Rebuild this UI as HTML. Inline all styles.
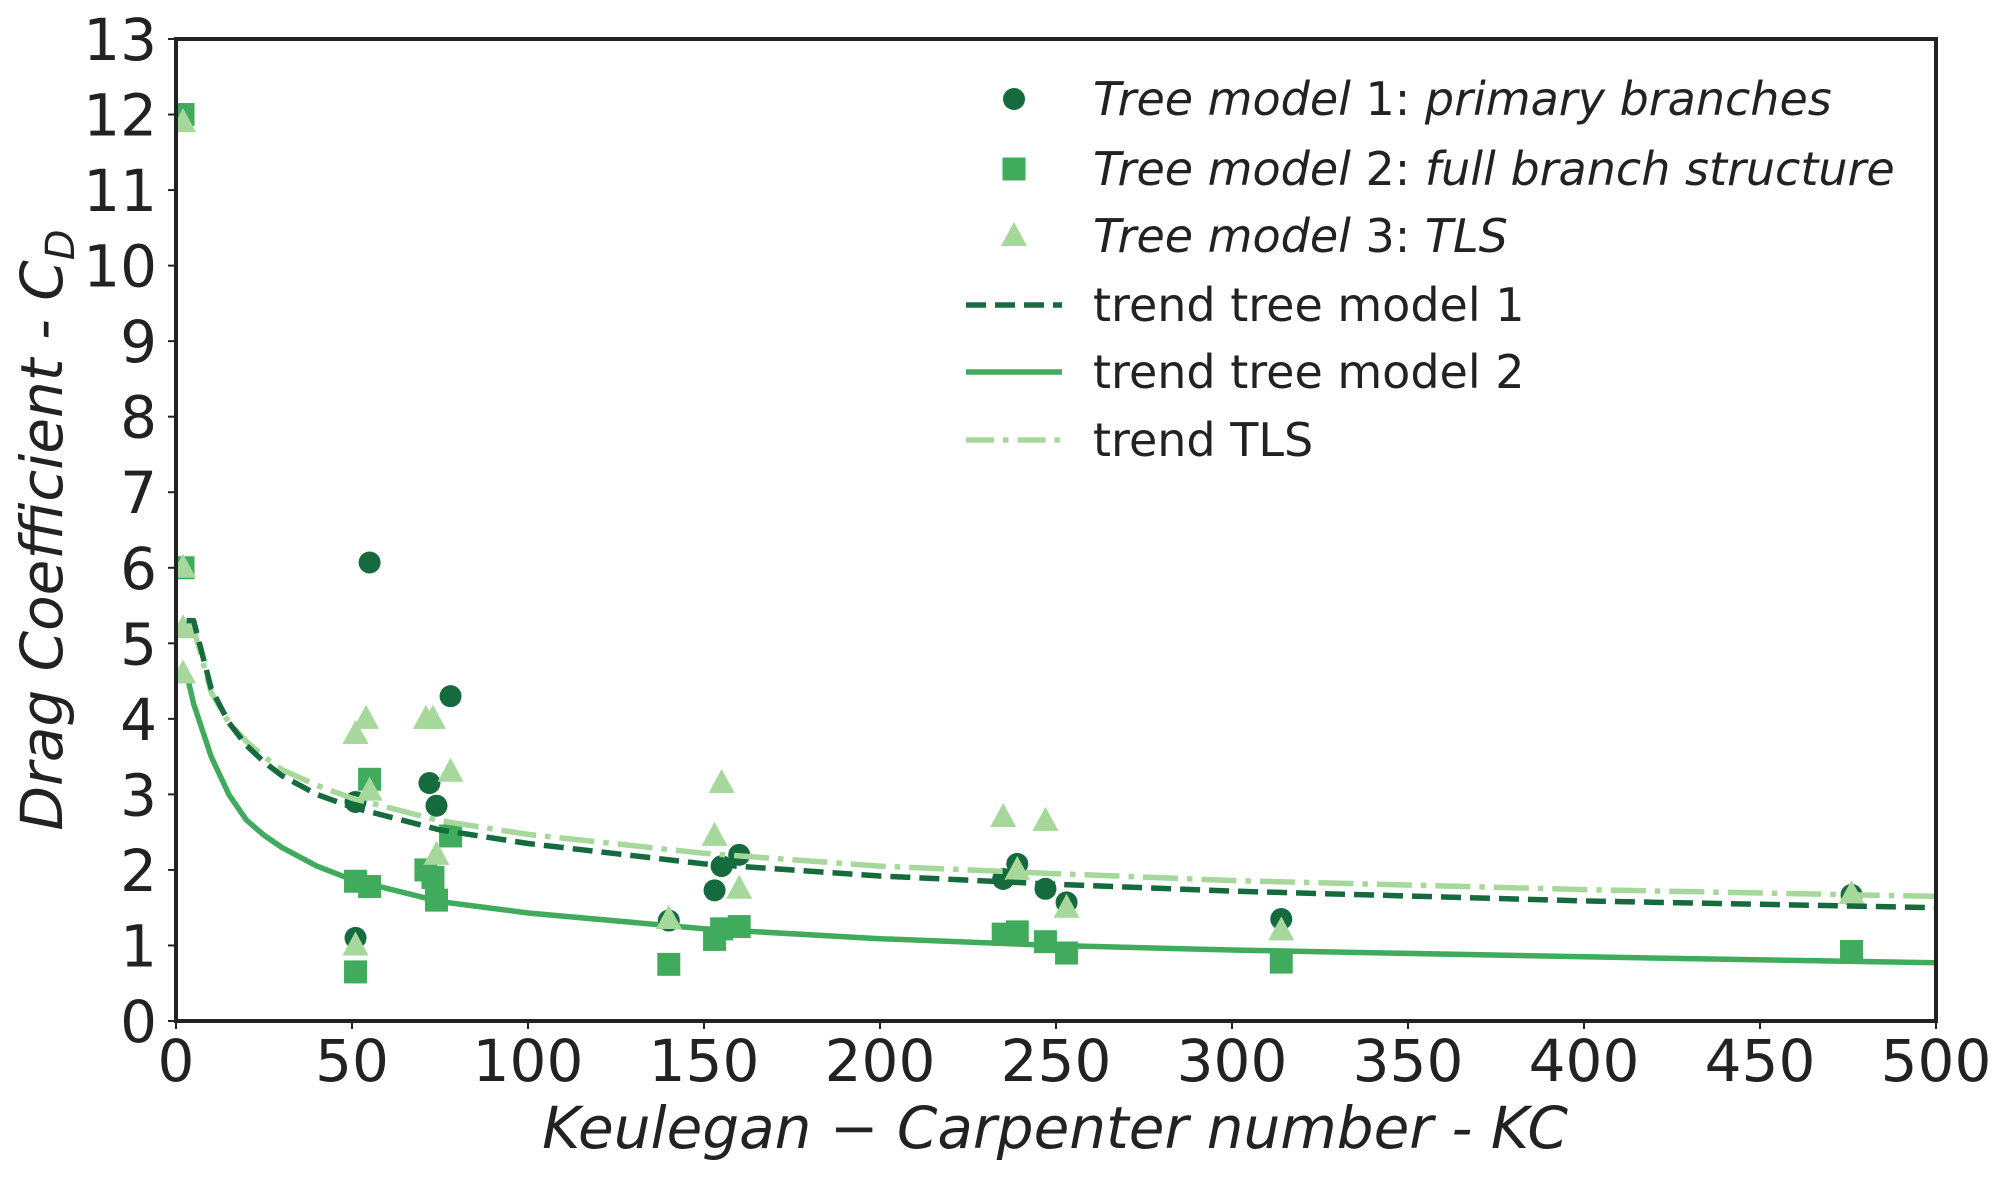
<!DOCTYPE html>
<html><head><meta charset="utf-8"><style>
html,body{margin:0;padding:0;background:#fff;}
svg{display:block;font-family:"DejaVu Sans","Liberation Sans",sans-serif;}
</style></head><body>
<svg id="chart" width="2008" height="1179" viewBox="0 0 2008 1179">
<rect width="2008" height="1179" fill="#fff"/>
<defs><clipPath id="plotclip"><rect x="176" y="39" width="1760" height="982"/></clipPath></defs>
<g id="marks" clip-path="url(#plotclip)"></g>
<rect x="176" y="39" width="1760" height="982" fill="none" stroke="#222" stroke-width="4"/>
<g id="axes"></g>
<text x="1055" y="1148" text-anchor="middle" font-size="58" font-style="italic" fill="#222">Keulegan − Carpenter number - KC</text>
<text transform="translate(62,530) rotate(-90)" text-anchor="middle" font-size="58" font-style="italic" fill="#222">Drag Coefficient - C<tspan font-size="40" dy="12">D</tspan></text>
<g id="legend"></g>
</svg>
<script>
const m1x=[2,2,51,51,55,72,74,78,140,153,155,160,235,239,247,253,314,476];
const m1y=[12,6,1.1,2.9,6.07,3.15,2.85,4.3,1.33,1.73,2.05,2.2,1.88,2.08,1.75,1.57,1.35,1.67];
const m2x=[2,2,51,51,55,55,71,73,74,78,140,153,155,160,235,239,247,253,314,476];
const m2y=[12,6,0.65,1.85,1.78,3.2,2.0,1.9,1.6,2.45,0.75,1.08,1.22,1.25,1.15,1.18,1.05,0.9,0.78,0.92];
const m3x=[2,2,2,2,51,51,54,55,71,73,74,78,140,153,155,160,235,239,247,253,314,476];
const m3y=[11.9,6.0,5.2,4.6,3.8,1.0,4.0,3.05,4.0,4.0,2.2,3.3,1.35,2.45,3.15,1.75,2.7,2.0,2.65,1.5,1.2,1.68];
const trendX=[3,5,10,15,20,25,30,40,50,75,100,150,200,250,300,400,500];
const trend1=[5.3,5.3,4.4,3.95,3.65,3.43,3.25,3.0,2.83,2.53,2.35,2.08,1.92,1.81,1.72,1.59,1.5];
const trend2=[4.6,4.2,3.5,3.0,2.66,2.46,2.3,2.05,1.87,1.58,1.43,1.22,1.09,1.0,0.94,0.85,0.77];
const trend3=[5.25,5.2,4.35,3.95,3.7,3.5,3.33,3.12,2.95,2.65,2.47,2.22,2.05,1.95,1.86,1.74,1.65];
const xTicks=[0,50,100,150,200,250,300,350,400,450,500];
const yTicks=[0,1,2,3,4,5,6,7,8,9,10,11,12,13];
const legendLabels=["Tree model 1: primary branches","Tree model 2: full branch structure","Tree model 3: TLS","trend tree model 1","trend tree model 2","trend TLS"];

const NS="http://www.w3.org/2000/svg";
const C1="#156b3e",C2="#41ab5d",C3="#a6d79b";
const X=v=>176+v*1760/500, Y=v=>1021-v*982/13;
function mk(tag,attrs,parent){const e=document.createElementNS(NS,tag);for(const k in attrs)e.setAttribute(k,attrs[k]);parent.appendChild(e);return e;}
const marks=document.getElementById('marks'),axes=document.getElementById('axes'),leg=document.getElementById('legend');

function line(xs,ys,color,dash,name){
  const d=xs.map((x,i)=>(i?'L':'M')+X(x).toFixed(1)+','+Y(ys[i]).toFixed(1)).join('');
  const p=mk('path',{d:d,fill:'none',stroke:color,'stroke-width':5.5,'stroke-dasharray':dash,'stroke-linejoin':'round'},marks);
  
  
}
function circle(cx,cy,color,parent){return mk('circle',{cx:cx,cy:cy,r:11,fill:color},parent);}
function square(cx,cy,color,parent){return mk('rect',{x:cx-11.5,y:cy-11.5,width:23,height:23,fill:color},parent);}
function tri(cx,cy,color,parent){return mk('polygon',{points:`${cx},${cy-14} ${cx+13},${cy+10} ${cx-13},${cy+10}`,fill:color},parent);}

line(trendX,trend2,C2,'','trend-line-model-2');
m1x.forEach((x,i)=>{const e=circle(X(x),Y(m1y[i]),C1,marks);
  
  });
m2x.forEach((x,i)=>{const e=square(X(x),Y(m2y[i]),C2,marks);
  
  });
m3x.forEach((x,i)=>{const e=tri(X(x),Y(m3y[i]),C3,marks);
  
  });
line(trendX,trend3,C3,'35 9 5.5 9','trend-line-tls');
line(trendX,trend1,C1,'20 9','trend-line-model-1');

xTicks.forEach(t=>{
  mk('line',{x1:X(t),x2:X(t),y1:1021,y2:1029,stroke:'#222','stroke-width':2},axes);
  const e=mk('text',{x:X(t),y:1081,'text-anchor':'middle','font-size':58,fill:'#222'},axes);
  e.textContent=t;
  
  
});
yTicks.forEach(t=>{
  mk('line',{x1:168,x2:176,y1:Y(t),y2:Y(t),stroke:'#222','stroke-width':2},axes);
  const e=mk('text',{x:157,y:Y(t)+21,'text-anchor':'end','font-size':58,fill:'#222'},axes);
  e.textContent=t;
  
  
});

const rowsY=[99,169,236,305,372,440];
legendLabels.forEach((lab,i)=>{
  const y=rowsY[i];
  const g=mk('g',{},leg);
  
  
  if(i===0)circle(1014,y,C1,g);
  if(i===1)square(1014,y,C2,g);
  if(i===2)tri(1014,y,C3,g);
  if(i===3)mk('line',{x1:966,x2:1062,y1:y,y2:y,stroke:C1,'stroke-width':5.5,'stroke-dasharray':'20 9'},g);
  if(i===4)mk('line',{x1:966,x2:1062,y1:y,y2:y,stroke:C2,'stroke-width':5.5},g);
  if(i===5)mk('line',{x1:966,x2:1062,y1:y,y2:y,stroke:C3,'stroke-width':5.5,'stroke-dasharray':'28 9 5.5 9'},g);
  const t=mk('text',{x:1093,y:y+16,'font-size':46,fill:'#222'},g);
  if(i<3){const p=lab.split(/(\d:)/);
    const a=mk('tspan',{'font-style':'italic'},t);a.textContent=p[0];
    const b=mk('tspan',{},t);b.textContent=' '+p[1].trim();
    const c=mk('tspan',{'font-style':'italic'},t);c.textContent=p[2];
  } else t.textContent=lab;
});
</script>
</body></html>
